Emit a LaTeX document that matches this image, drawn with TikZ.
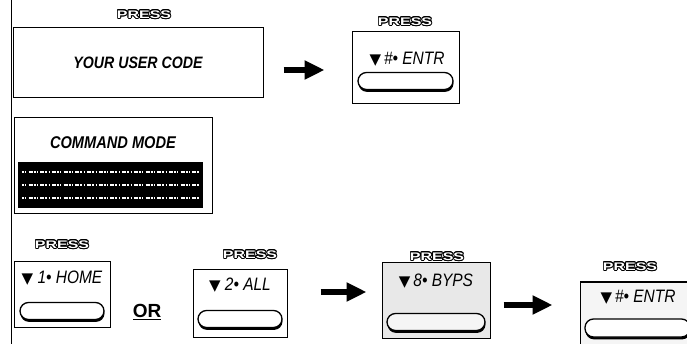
\documentclass[tikz,border=0pt]{standalone}
\usepackage{fontspec}
\usepackage{contour}
\setmainfont{Liberation Sans}
\newfontfamily\narrowsans[FakeStretch=0.86]{Liberation Sans}
\newfontfamily\widesans[FakeStretch=1.45]{Liberation Sans}
\newfontfamily\dvsans{DejaVu Sans}
\usetikzlibrary{
  arrows.meta,
  shadows
}
\contourlength{0.9pt}
\newcommand{\hdfont}{\narrowsans\bfseries\itshape\fontsize{16.5}{18}\selectfont}
\newcommand{\kyfont}{\narrowsans\itshape\fontsize{18}{20}\selectfont}
\newcommand{\prfont}{\widesans\bfseries\fontsize{11}{12}\selectfont}
\newcommand{\downtri}{{\dvsans\fontsize{15}{16}\selectfont ▼}}
\newcommand{\pressword}{\contour{black}{\textcolor{white}{PRESS}}}

\begin{document}
\begin{tikzpicture}[x=1pt, y=-1pt,
            press/.style={font=\prfont, inner sep=0pt},
            panel/.style={rectangle, draw, line width=1pt, inner sep=0pt, font=\hdfont},
            keybox/.style={rectangle, draw, line width=1pt, inner sep=0pt},
            keylbl/.style={font=\kyfont, inner sep=0pt},
            btn/.style={rectangle, draw, line width=1.3pt, rounded corners=8.5pt, fill=white, minimum height=17pt, inner sep=0pt, drop shadow={shadow xshift=0.5pt, shadow yshift=-2.4pt, fill=black, opacity=1}},
            arr/.style={draw, line width=6.5pt, -{Triangle[length=20pt, width=18pt]}}]
            \useasboundingbox (0,0) rectangle (687,344);
            \draw [line width=0.8pt] (11,0) -- (11,344);

            % enter user code
            \node [press] (pr1) at (144,15) {\pressword};
            \node [panel, minimum width=250pt, minimum height=70pt] (code) at (138,63) {YOUR USER CODE};
            \node [press] (pr2) at (405,22) {\pressword};
            \node [keybox, minimum width=107pt, minimum height=72pt] (ent1) at (405.5,68) {};
            \node [keylbl] (ent1t) at (407,59) {\downtri\,\#• ENTR};
            \node [btn, minimum width=95pt] (ent1b) at (405.5,81) {};

            % command mode display
            \node [panel, minimum width=198pt, minimum height=96pt] (cmd) at (113,166) {};
            \node [font=\hdfont\fontsize{17}{18}\selectfont] (cmdt) at (113,143) {COMMAND MODE};
            \node [fill=black, minimum width=185pt, minimum height=46pt, inner sep=0pt] (scr) at (110.5,185) {};
            \foreach \r in {-13,0,13}
              \draw [white, line width=1.3pt, dash pattern=on 2pt off 1.5pt on 0.7pt off 2.5pt on 4pt off 1pt]
                ([xshift=4pt, yshift=\r pt]scr.west) -- ([xshift=-4pt, yshift=\r pt]scr.east);

            % bypass keys
            \node [press] (pr3) at (62,245) {\pressword};
            \node [keybox, minimum width=96pt, minimum height=65pt] (home) at (62,294.5) {};
            \node [keylbl] (homet) at (62,278) {\downtri\ 1• HOME};
            \node [btn, minimum width=84pt] (homeb) at (62,311) {};

            \node [font=\bfseries\fontsize{19}{20}\selectfont, inner sep=0pt] (or) at (147,312) {\underline{OR}};

            \node [press] (pr4) at (250,255) {\pressword};
            \node [keybox, minimum width=94pt, minimum height=67pt] (all) at (240,303.5) {};
            \node [keylbl] (allt) at (240,285) {\downtri\ 2• ALL};
            \node [btn, minimum width=84pt] (allb) at (240,319) {};

            \node [press] (pr5) at (437,257) {\pressword};
            \node [keybox, fill=gray!18, minimum width=108pt, minimum height=75pt] (byps) at (436,300.5) {};
            \node [keylbl] (bypst) at (436,281) {\downtri\,8• BYPS};
            \node [btn, fill=gray!8, minimum width=98pt] (bypsb) at (436,322) {};

            \node [press] (pr6) at (630,267) {\pressword};
            \node [keybox, fill=gray!8, minimum width=117pt, minimum height=70pt] (ent2) at (638.5,317) {};
            \node [keylbl] (ent2t) at (638,297) {\downtri\,\#• ENTR};
            \node [btn, minimum width=105pt, minimum height=18pt] (ent2b) at (637.5,328) {};

            \path [arr, shorten <=20pt, shorten >=27pt] ([yshift=-7pt]code.east) -- ([yshift=-2pt]ent1.west);
            \path [arr, shorten <=33pt, shorten >=15pt] ([yshift=11.5pt]all.east) -- ([yshift=8.5pt]byps.west);
            \path [arr, shorten <=13pt, shorten >=27pt] ([yshift=-4.5pt]byps.east) -- ([yshift=-4.5pt]ent2.west |- byps.east);
        \end{tikzpicture}
\end{document}
